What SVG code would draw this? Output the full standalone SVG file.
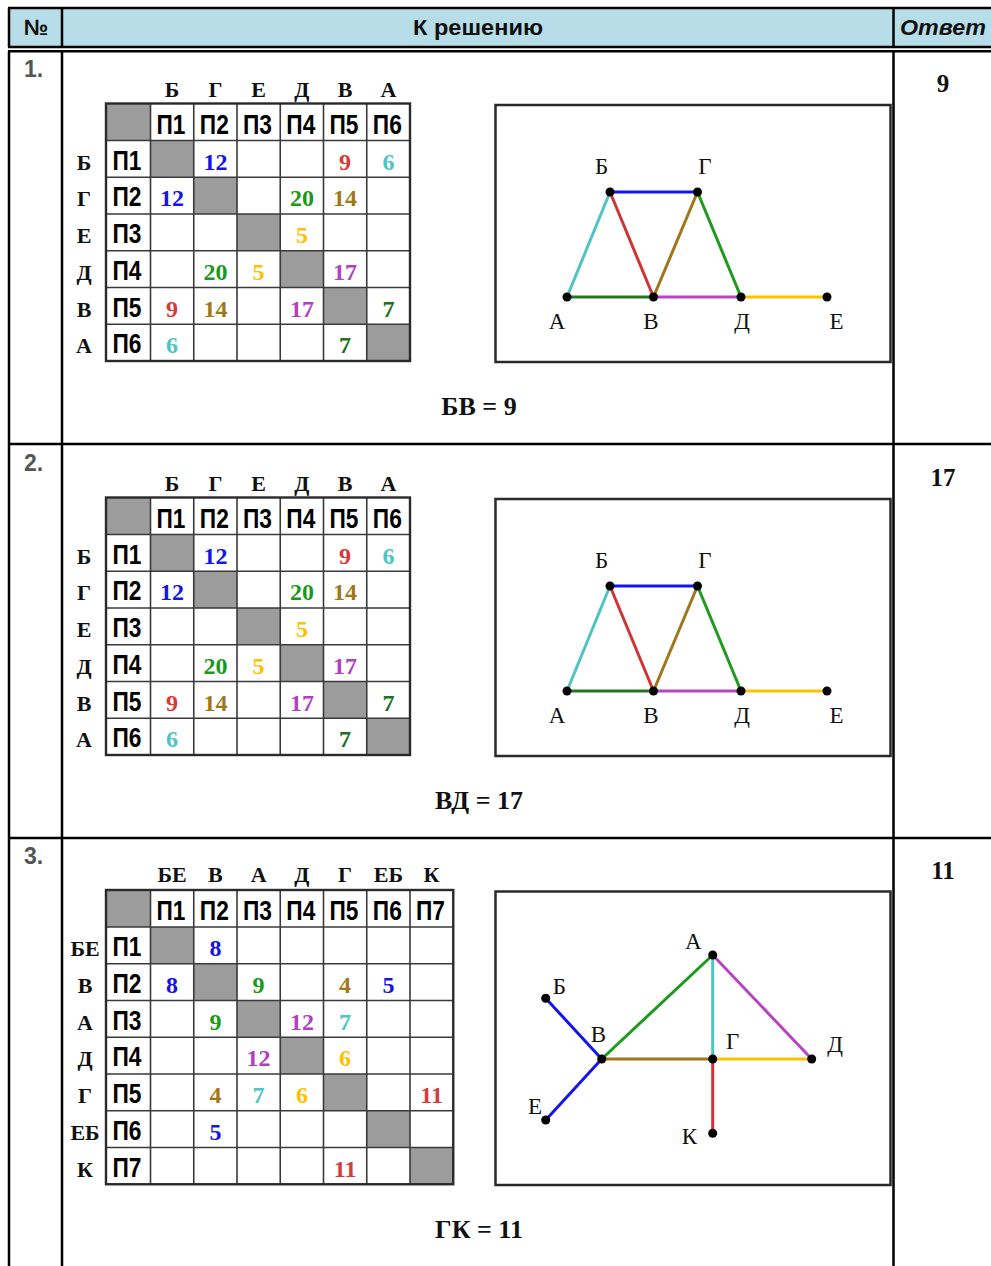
<svg xmlns="http://www.w3.org/2000/svg" width="991" height="1266" viewBox="0 0 991 1266">
<style>
.bg{fill:#fff}
.hfill{fill:#b7dde8}
.frame{stroke:#000;stroke-width:2.5;fill:none}
.grid{stroke:#3a3a3a;stroke-width:1.6;fill:none}
.tout{stroke:#2a2a2a;stroke-width:2.4;fill:none}
.gray{fill:#9c9c9c}
.box{stroke:#2a2a2a;stroke-width:2.5;fill:#fff}
.hdr{font-family:"Liberation Sans",Arial,sans-serif;font-weight:bold;font-size:22px;fill:#111}
.num{font-family:"Liberation Sans",Arial,sans-serif;font-weight:bold;font-size:23px;fill:#555}
.ans{font-family:"Liberation Serif","Times New Roman",serif;font-weight:bold;font-size:25px;fill:#111;text-anchor:middle}
.lbl{font-family:"Liberation Serif","Times New Roman",serif;font-weight:bold;font-size:22px;fill:#111;text-anchor:middle}
.p{font-family:"Liberation Sans",Arial,sans-serif;font-weight:bold;font-size:27px;fill:#000;text-anchor:middle}
.v{font-family:"Liberation Serif","Times New Roman",serif;font-weight:bold;font-size:24px;text-anchor:middle}
.g{font-family:"Liberation Serif","Times New Roman",serif;font-size:23px;fill:#111;text-anchor:middle}
.f{font-family:"Liberation Serif","Times New Roman",serif;font-weight:bold;font-size:26px;fill:#111;text-anchor:middle}
.edge{stroke-width:3;fill:none;stroke-linecap:round}
.node{fill:#000}
.cb{fill:#1414e6}.cr{fill:#d83a3a}.cc{fill:#4cc5c5}.cg{fill:#1a9a1a}.cn{fill:#a07818}.co{fill:#ffc000}.cp{fill:#b040c0}.cd{fill:#207020}
.sb{stroke:#1414f0}.sr{stroke:#d03535}.sc{stroke:#50c4c4}.sg{stroke:#1e9a1e}.sn{stroke:#a0761a}.so{stroke:#ffc000}.sp{stroke:#b845c0}.sd{stroke:#247524}
</style>
<rect class="bg" x="0" y="0" width="991" height="1266"/>

<g id="outer-table">
  <rect class="hfill" x="9" y="8" width="982" height="39"/>
  <path class="frame" d="M8 8H991M8 47H991M9 8V47M62 8V47M893.5 8V47"/>
  <path class="frame" d="M8 51.3H991M9 51.3V1266M62 51.3V1266M893.5 51.3V1266M9 444H991M9 838H991"/>
  <text class="hdr" x="36" y="35" text-anchor="middle">№</text>
  <text class="hdr" x="478" y="35" text-anchor="middle" textLength="130" lengthAdjust="spacingAndGlyphs">К решению</text>
  <text class="hdr" x="943" y="35" text-anchor="middle" font-style="italic" textLength="86" lengthAdjust="spacingAndGlyphs">Ответ</text>
  <text class="num" x="24" y="77">1.</text>
  <text class="num" x="24" y="471">2.</text>
  <text class="num" x="24" y="864">3.</text>
  <text class="ans" x="943" y="92">9</text>
  <text class="ans" x="943" y="486">17</text>
  <text class="ans" x="943" y="879">11</text>
  <text class="f" x="479" y="415">БВ = 9</text>
  <text class="f" x="479" y="809">ВД = 17</text>
  <text class="f" x="479" y="1238">ГК = 11</text>
</g>

<!-- Table 1 -->
<g id="table1">
  <rect class="gray" x="106" y="103.5" width="44.5" height="37"/>
  <rect class="gray" x="150.5" y="140.5" width="43.25" height="36.75"/>
  <rect class="gray" x="193.75" y="177.25" width="43.25" height="36.75"/>
  <rect class="gray" x="237" y="214" width="43.25" height="36.75"/>
  <rect class="gray" x="280.25" y="250.75" width="43.25" height="36.75"/>
  <rect class="gray" x="323.5" y="287.5" width="43.25" height="36.75"/>
  <rect class="gray" x="366.75" y="324.25" width="43.25" height="36.75"/>
  <path class="grid" d="M150.5 103.5V361M193.75 103.5V361M237 103.5V361M280.25 103.5V361M323.5 103.5V361M366.75 103.5V361M106 140.5H410M106 177.25H410M106 214H410M106 250.75H410M106 287.5H410M106 324.25H410"/>
  <rect class="tout" x="106" y="103.5" width="304" height="257.5"/>
  <text class="lbl" x="172.1" y="97">Б</text><text class="lbl" x="215.4" y="97">Г</text><text class="lbl" x="258.6" y="97">Е</text><text class="lbl" x="301.9" y="97">Д</text><text class="lbl" x="345.1" y="97">В</text><text class="lbl" x="388.4" y="97">А</text>
  <text class="lbl" x="84" y="169.5">Б</text><text class="lbl" x="84" y="206.25">Г</text><text class="lbl" x="84" y="243">Е</text><text class="lbl" x="84" y="279.75">Д</text><text class="lbl" x="84" y="316.5">В</text><text class="lbl" x="84" y="353.25">А</text>
  <text class="p" x="171" y="133.5" textLength="29" lengthAdjust="spacingAndGlyphs">П1</text><text class="p" x="214.3" y="133.5" textLength="29" lengthAdjust="spacingAndGlyphs">П2</text><text class="p" x="257.5" y="133.5" textLength="29" lengthAdjust="spacingAndGlyphs">П3</text><text class="p" x="300.8" y="133.5" textLength="29" lengthAdjust="spacingAndGlyphs">П4</text><text class="p" x="344" y="133.5" textLength="29" lengthAdjust="spacingAndGlyphs">П5</text><text class="p" x="387.3" y="133.5" textLength="29" lengthAdjust="spacingAndGlyphs">П6</text>
  <text class="p" x="127" y="169.5" textLength="29" lengthAdjust="spacingAndGlyphs">П1</text><text class="p" x="127" y="206.25" textLength="29" lengthAdjust="spacingAndGlyphs">П2</text><text class="p" x="127" y="243" textLength="29" lengthAdjust="spacingAndGlyphs">П3</text><text class="p" x="127" y="279.75" textLength="29" lengthAdjust="spacingAndGlyphs">П4</text><text class="p" x="127" y="316.5" textLength="29" lengthAdjust="spacingAndGlyphs">П5</text><text class="p" x="127" y="353.25" textLength="29" lengthAdjust="spacingAndGlyphs">П6</text>
  <text class="v cb" x="215.4" y="169.5">12</text><text class="v cr" x="345.1" y="169.5">9</text><text class="v cc" x="388.4" y="169.5">6</text>
  <text class="v cb" x="172.1" y="206.25">12</text><text class="v cg" x="301.9" y="206.25">20</text><text class="v cn" x="345.1" y="206.25">14</text>
  <text class="v co" x="301.9" y="243">5</text>
  <text class="v cg" x="215.4" y="279.75">20</text><text class="v co" x="258.6" y="279.75">5</text><text class="v cp" x="345.1" y="279.75">17</text>
  <text class="v cr" x="172.1" y="316.5">9</text><text class="v cn" x="215.4" y="316.5">14</text><text class="v cp" x="301.9" y="316.5">17</text><text class="v cd" x="388.4" y="316.5">7</text>
  <text class="v cc" x="172.1" y="353.25">6</text><text class="v cd" x="345.1" y="353.25">7</text>
</g>

<!-- Table 2 -->
<g id="table2">
  <rect class="gray" x="106" y="497.5" width="44.5" height="37"/>
  <rect class="gray" x="150.5" y="534.5" width="43.25" height="36.75"/>
  <rect class="gray" x="193.75" y="571.25" width="43.25" height="36.75"/>
  <rect class="gray" x="237" y="608" width="43.25" height="36.75"/>
  <rect class="gray" x="280.25" y="644.75" width="43.25" height="36.75"/>
  <rect class="gray" x="323.5" y="681.5" width="43.25" height="36.75"/>
  <rect class="gray" x="366.75" y="718.25" width="43.25" height="36.75"/>
  <path class="grid" d="M150.5 497.5V755M193.75 497.5V755M237 497.5V755M280.25 497.5V755M323.5 497.5V755M366.75 497.5V755M106 534.5H410M106 571.25H410M106 608H410M106 644.75H410M106 681.5H410M106 718.25H410"/>
  <rect class="tout" x="106" y="497.5" width="304" height="257.5"/>
  <text class="lbl" x="172.1" y="491">Б</text><text class="lbl" x="215.4" y="491">Г</text><text class="lbl" x="258.6" y="491">Е</text><text class="lbl" x="301.9" y="491">Д</text><text class="lbl" x="345.1" y="491">В</text><text class="lbl" x="388.4" y="491">А</text>
  <text class="lbl" x="84" y="563.5">Б</text><text class="lbl" x="84" y="600.25">Г</text><text class="lbl" x="84" y="637">Е</text><text class="lbl" x="84" y="673.75">Д</text><text class="lbl" x="84" y="710.5">В</text><text class="lbl" x="84" y="747.25">А</text>
  <text class="p" x="171" y="527.5" textLength="29" lengthAdjust="spacingAndGlyphs">П1</text><text class="p" x="214.3" y="527.5" textLength="29" lengthAdjust="spacingAndGlyphs">П2</text><text class="p" x="257.5" y="527.5" textLength="29" lengthAdjust="spacingAndGlyphs">П3</text><text class="p" x="300.8" y="527.5" textLength="29" lengthAdjust="spacingAndGlyphs">П4</text><text class="p" x="344" y="527.5" textLength="29" lengthAdjust="spacingAndGlyphs">П5</text><text class="p" x="387.3" y="527.5" textLength="29" lengthAdjust="spacingAndGlyphs">П6</text>
  <text class="p" x="127" y="563.5" textLength="29" lengthAdjust="spacingAndGlyphs">П1</text><text class="p" x="127" y="600.25" textLength="29" lengthAdjust="spacingAndGlyphs">П2</text><text class="p" x="127" y="637" textLength="29" lengthAdjust="spacingAndGlyphs">П3</text><text class="p" x="127" y="673.75" textLength="29" lengthAdjust="spacingAndGlyphs">П4</text><text class="p" x="127" y="710.5" textLength="29" lengthAdjust="spacingAndGlyphs">П5</text><text class="p" x="127" y="747.25" textLength="29" lengthAdjust="spacingAndGlyphs">П6</text>
  <text class="v cb" x="215.4" y="563.5">12</text><text class="v cr" x="345.1" y="563.5">9</text><text class="v cc" x="388.4" y="563.5">6</text>
  <text class="v cb" x="172.1" y="600.25">12</text><text class="v cg" x="301.9" y="600.25">20</text><text class="v cn" x="345.1" y="600.25">14</text>
  <text class="v co" x="301.9" y="637">5</text>
  <text class="v cg" x="215.4" y="673.75">20</text><text class="v co" x="258.6" y="673.75">5</text><text class="v cp" x="345.1" y="673.75">17</text>
  <text class="v cr" x="172.1" y="710.5">9</text><text class="v cn" x="215.4" y="710.5">14</text><text class="v cp" x="301.9" y="710.5">17</text><text class="v cd" x="388.4" y="710.5">7</text>
  <text class="v cc" x="172.1" y="747.25">6</text><text class="v cd" x="345.1" y="747.25">7</text>
</g>

<!-- Table 3 -->
<g id="table3">
  <rect class="gray" x="106" y="890" width="44.5" height="37"/>
  <rect class="gray" x="150.5" y="927" width="43.25" height="36.75"/>
  <rect class="gray" x="193.75" y="963.75" width="43.25" height="36.75"/>
  <rect class="gray" x="237" y="1000.5" width="43.25" height="36.75"/>
  <rect class="gray" x="280.25" y="1037.25" width="43.25" height="36.75"/>
  <rect class="gray" x="323.5" y="1074" width="43.25" height="36.75"/>
  <rect class="gray" x="366.75" y="1110.75" width="43.25" height="36.75"/>
  <rect class="gray" x="410" y="1147.5" width="43.25" height="36.75"/>
  <path class="grid" d="M150.5 890V1184.25M193.75 890V1184.25M237 890V1184.25M280.25 890V1184.25M323.5 890V1184.25M366.75 890V1184.25M410 890V1184.25M106 927H453.25M106 963.75H453.25M106 1000.5H453.25M106 1037.25H453.25M106 1074H453.25M106 1110.75H453.25M106 1147.5H453.25"/>
  <rect class="tout" x="106" y="890" width="347.25" height="294.25"/>
  <text class="lbl" x="172.1" y="882">БЕ</text><text class="lbl" x="215.4" y="882">В</text><text class="lbl" x="258.6" y="882">А</text><text class="lbl" x="301.9" y="882">Д</text><text class="lbl" x="345.1" y="882">Г</text><text class="lbl" x="388.4" y="882">ЕБ</text><text class="lbl" x="431.6" y="882">К</text>
  <text class="lbl" x="85" y="956">БЕ</text><text class="lbl" x="85" y="992.75">В</text><text class="lbl" x="85" y="1029.5">А</text><text class="lbl" x="85" y="1066.25">Д</text><text class="lbl" x="85" y="1103">Г</text><text class="lbl" x="85" y="1139.75">ЕБ</text><text class="lbl" x="85" y="1176.5">К</text>
  <text class="p" x="171" y="920" textLength="29" lengthAdjust="spacingAndGlyphs">П1</text><text class="p" x="214.3" y="920" textLength="29" lengthAdjust="spacingAndGlyphs">П2</text><text class="p" x="257.5" y="920" textLength="29" lengthAdjust="spacingAndGlyphs">П3</text><text class="p" x="300.8" y="920" textLength="29" lengthAdjust="spacingAndGlyphs">П4</text><text class="p" x="344" y="920" textLength="29" lengthAdjust="spacingAndGlyphs">П5</text><text class="p" x="387.3" y="920" textLength="29" lengthAdjust="spacingAndGlyphs">П6</text><text class="p" x="430.5" y="920" textLength="29" lengthAdjust="spacingAndGlyphs">П7</text>
  <text class="p" x="127" y="956" textLength="29" lengthAdjust="spacingAndGlyphs">П1</text><text class="p" x="127" y="992.75" textLength="29" lengthAdjust="spacingAndGlyphs">П2</text><text class="p" x="127" y="1029.5" textLength="29" lengthAdjust="spacingAndGlyphs">П3</text><text class="p" x="127" y="1066.25" textLength="29" lengthAdjust="spacingAndGlyphs">П4</text><text class="p" x="127" y="1103" textLength="29" lengthAdjust="spacingAndGlyphs">П5</text><text class="p" x="127" y="1139.75" textLength="29" lengthAdjust="spacingAndGlyphs">П6</text><text class="p" x="127" y="1176.5" textLength="29" lengthAdjust="spacingAndGlyphs">П7</text>
  <text class="v cb" x="215.4" y="956">8</text>
  <text class="v cb" x="172.1" y="992.75">8</text><text class="v cg" x="258.6" y="992.75">9</text><text class="v cn" x="345.1" y="992.75">4</text><text class="v cb" x="388.4" y="992.75">5</text>
  <text class="v cg" x="215.4" y="1029.5">9</text><text class="v cp" x="301.9" y="1029.5">12</text><text class="v cc" x="345.1" y="1029.5">7</text>
  <text class="v cp" x="258.6" y="1066.25">12</text><text class="v co" x="345.1" y="1066.25">6</text>
  <text class="v cn" x="215.4" y="1103">4</text><text class="v cc" x="258.6" y="1103">7</text><text class="v co" x="301.9" y="1103">6</text><text class="v cr" x="431.6" y="1103">11</text>
  <text class="v cb" x="215.4" y="1139.75">5</text>
  <text class="v cr" x="345.1" y="1176.5">11</text>
</g>

<!-- Graph boxes -->
<rect class="box" x="495.5" y="105" width="395" height="257"/>
<rect class="box" x="495.5" y="499" width="395" height="257"/>
<rect class="box" x="495.5" y="891.5" width="395" height="293.5"/>

<g id="connectors">
  <line class="edge sc" x1="567" y1="297" x2="610" y2="192"/>
  <line class="edge sb" x1="610" y1="192" x2="697.5" y2="192"/>
  <line class="edge sr" x1="610" y1="192" x2="653.5" y2="297"/>
  <line class="edge sn" x1="697.5" y1="192" x2="653.5" y2="297"/>
  <line class="edge sg" x1="697.5" y1="192" x2="741" y2="297"/>
  <line class="edge sd" x1="567" y1="297" x2="653.5" y2="297"/>
  <line class="edge sp" x1="653.5" y1="297" x2="741" y2="297"/>
  <line class="edge so" x1="741" y1="297" x2="827" y2="297"/>
  <line class="edge sc" x1="567" y1="691" x2="610" y2="586"/>
  <line class="edge sb" x1="610" y1="586" x2="697.5" y2="586"/>
  <line class="edge sr" x1="610" y1="586" x2="653.5" y2="691"/>
  <line class="edge sn" x1="697.5" y1="586" x2="653.5" y2="691"/>
  <line class="edge sg" x1="697.5" y1="586" x2="741" y2="691"/>
  <line class="edge sd" x1="567" y1="691" x2="653.5" y2="691"/>
  <line class="edge sp" x1="653.5" y1="691" x2="741" y2="691"/>
  <line class="edge so" x1="741" y1="691" x2="827" y2="691"/>
  <line class="edge sb" x1="545.7" y1="998.3" x2="601.7" y2="1059"/>
  <line class="edge sb" x1="545.7" y1="1120" x2="601.7" y2="1059"/>
  <line class="edge sg" x1="601.7" y1="1059" x2="712.7" y2="955"/>
  <line class="edge sn" x1="601.7" y1="1059" x2="712.7" y2="1059"/>
  <line class="edge sc" x1="712.7" y1="955" x2="712.7" y2="1059"/>
  <line class="edge sp" x1="712.7" y1="955" x2="811.7" y2="1059"/>
  <line class="edge so" x1="712.7" y1="1059" x2="811.7" y2="1059"/>
  <line class="edge sr" x1="712.7" y1="1059" x2="712.7" y2="1133.3"/>
</g>

<g id="g1-B"><circle class="node" cx="610" cy="192" r="4.5"/><text class="g" x="601.5" y="174">Б</text></g>
<g id="g1-G"><circle class="node" cx="697.5" cy="192" r="4.5"/><text class="g" x="705" y="174">Г</text></g>
<g id="g1-A"><circle class="node" cx="567" cy="297" r="4.5"/><text class="g" x="557" y="329">А</text></g>
<g id="g1-V"><circle class="node" cx="653.5" cy="297" r="4.5"/><text class="g" x="651" y="329">В</text></g>
<g id="g1-D"><circle class="node" cx="741" cy="297" r="4.5"/><text class="g" x="742" y="329">Д</text></g>
<g id="g1-E"><circle class="node" cx="827" cy="297" r="4.5"/><text class="g" x="836.5" y="329">Е</text></g>
<g id="g2-B"><circle class="node" cx="610" cy="586" r="4.5"/><text class="g" x="601.5" y="568">Б</text></g>
<g id="g2-G"><circle class="node" cx="697.5" cy="586" r="4.5"/><text class="g" x="705" y="568">Г</text></g>
<g id="g2-A"><circle class="node" cx="567" cy="691" r="4.5"/><text class="g" x="557" y="723">А</text></g>
<g id="g2-V"><circle class="node" cx="653.5" cy="691" r="4.5"/><text class="g" x="651" y="723">В</text></g>
<g id="g2-D"><circle class="node" cx="741" cy="691" r="4.5"/><text class="g" x="742" y="723">Д</text></g>
<g id="g2-E"><circle class="node" cx="827" cy="691" r="4.5"/><text class="g" x="836.5" y="723">Е</text></g>
<g id="g3-A"><circle class="node" cx="712.7" cy="955" r="4.5"/><text class="g" x="693.3" y="949">А</text></g>
<g id="g3-B"><circle class="node" cx="545.7" cy="998.3" r="4.5"/><text class="g" x="559.3" y="994">Б</text></g>
<g id="g3-V"><circle class="node" cx="601.7" cy="1059" r="4.5"/><text class="g" x="598.3" y="1042">В</text></g>
<g id="g3-G"><circle class="node" cx="712.7" cy="1059" r="4.5"/><text class="g" x="732.7" y="1049">Г</text></g>
<g id="g3-D"><circle class="node" cx="811.7" cy="1059" r="4.5"/><text class="g" x="835" y="1052">Д</text></g>
<g id="g3-E"><circle class="node" cx="545.7" cy="1120" r="4.5"/><text class="g" x="535" y="1114">Е</text></g>
<g id="g3-K"><circle class="node" cx="712.7" cy="1133.3" r="4.5"/><text class="g" x="689.3" y="1144">К</text></g>
</svg>
